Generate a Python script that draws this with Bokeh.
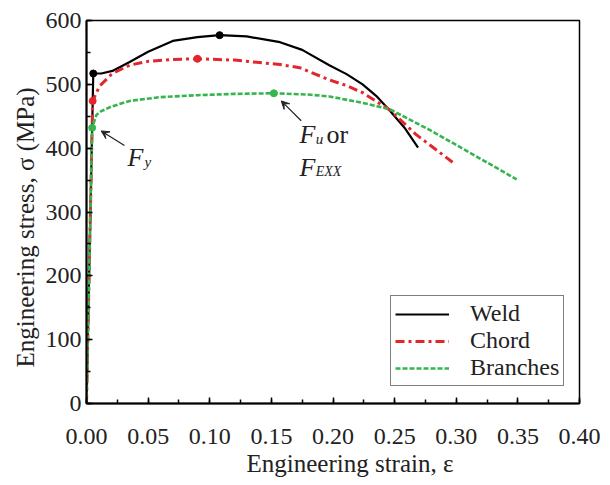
from bokeh.plotting import figure
from bokeh.models import (Range1d, SingleIntervalTicker, NumeralTickFormatter, Label,
                          Arrow, VeeHead, Legend, LegendItem, Title)
from bokeh.embed import file_html
from bokeh.resources import INLINE

# ---- data ----
weld_strain = [0, 0.0055, 0.012, 0.021, 0.035, 0.05, 0.07, 0.09, 0.108, 0.13, 0.157, 0.175,
               0.197, 0.211, 0.224, 0.235, 0.246, 0.258, 0.269]
weld_stress = [0, 517, 517, 521, 535, 551, 568, 574, 577, 575, 566, 554,
               530, 516, 500, 482, 459, 432, 401]

chord_strain = [0, 0.005, 0.0105, 0.021, 0.035, 0.05, 0.07, 0.09, 0.12, 0.157, 0.173, 0.197,
                0.211, 0.224, 0.246, 0.267, 0.297]
chord_stress = [0, 474, 497, 517, 530, 536, 539, 540, 538, 531, 526, 507,
                498, 487, 460, 422, 378]

branch_strain = [0, 0.0046, 0.008, 0.012, 0.02, 0.035, 0.06, 0.09, 0.12, 0.152, 0.18, 0.197,
                 0.224, 0.246, 0.278, 0.311, 0.349]
branch_stress = [0, 432, 452, 458, 465, 474, 480, 483, 485, 486, 484, 481,
                 471, 461, 429, 393, 351]

# yield / ultimate points marked on each curve
weld_pts_strain = [0.0055, 0.108]
weld_pts_stress = [517, 577]
chord_pts_strain = [0.005, 0.09]
chord_pts_stress = [474, 540]
branch_pts_strain = [0.0046, 0.152]
branch_pts_stress = [432, 486]

x_ticks_interval = 0.05
y_ticks_interval = 100

FONT = "Liberation Serif"
BLACK = "#000000"
RED = "#e3262b"
GREEN = "#35b44f"

p = figure(frame_width=493, frame_height=383, min_border_left=86, min_border_right=22,
           min_border_top=20, min_border_bottom=70,
           x_range=Range1d(0, 0.4), y_range=Range1d(0, 600),
           output_backend="svg", toolbar_location=None)
p.background_fill_color = "white"
p.border_fill_color = "white"
p.xgrid.visible = False
p.ygrid.visible = False
p.outline_line_color = "black"
p.outline_line_width = 1.5
p.outline_line_alpha = 1

# axes
p.xaxis.ticker = SingleIntervalTicker(interval=x_ticks_interval, num_minor_ticks=2)
p.yaxis.ticker = SingleIntervalTicker(interval=y_ticks_interval, num_minor_ticks=2)
p.xaxis.formatter = NumeralTickFormatter(format="0.00")
for ax in (p.xaxis[0], p.yaxis[0]):
    ax.axis_line_width = 2
    ax.axis_line_color = "black"
    ax.major_tick_in = 6
    ax.major_tick_out = 0
    ax.minor_tick_in = 4
    ax.minor_tick_out = 0
    ax.major_tick_line_width = 1.5
    ax.minor_tick_line_width = 1.5
    ax.major_label_text_font = FONT
    ax.major_label_text_font_size = "24px"
    ax.major_label_text_color = "#222222"
p.xaxis.major_label_standoff = 25
p.yaxis.major_label_standoff = 5

# axis titles
ytitle = Title(text="Engineering stress, σ (MPa)", align="left", offset=36, standoff=8,
               text_font=FONT, text_font_size="25px", text_font_style="normal",
               text_color="#222222")
p.add_layout(ytitle, "left")
xtitle = Title(text="Engineering strain, ε", align="left", offset=160, standoff=2,
               text_font=FONT, text_font_size="25px", text_font_style="normal",
               text_color="#222222")
p.add_layout(xtitle, "below")

# curves
r_weld = p.line(weld_strain, weld_stress, line_color=BLACK, line_width=2.2)
r_chord = p.line(chord_strain, chord_stress, line_color=RED, line_width=3,
                 line_dash="9 4 3 4")
r_branch = p.line(branch_strain, branch_stress, line_color=GREEN, line_width=2.6,
                  line_dash="5 2")
p.scatter(weld_pts_strain, weld_pts_stress, size=7, color=BLACK)
p.scatter(chord_pts_strain, chord_pts_stress, size=7, color=RED)
p.scatter(branch_pts_strain, branch_pts_stress, size=7, color=GREEN)

# legend
legend = Legend(items=[LegendItem(label="Weld", renderers=[r_weld]),
                       LegendItem(label="Chord", renderers=[r_chord]),
                       LegendItem(label="Branches", renderers=[r_branch])],
                location=(304, 17))
legend.label_text_font = FONT
legend.label_text_font_size = "24px"
legend.label_text_color = "#222222"
legend.glyph_width = 54
legend.glyph_height = 20
legend.label_height = 20
legend.label_standoff = 21
legend.spacing = -2
legend.padding = 4
legend.margin = 0
legend.border_line_color = "black"
legend.border_line_width = 1.5
legend.background_fill_alpha = 1
p.add_layout(legend, "center")

# annotations (F_y, F_u or F_EXX)
fy_text = [0.0333, 386]
fy_sub = [0.047, 378]
fy_arrow = [0.0308, 404, 0.0119, 427]
fu_text = [0.1728, 421]
fu_sub = [0.186, 414]
fu_or = [0.1947, 421]
fexx_text = [0.1728, 370]
fexx_sub = [0.186, 364]
fu_arrow = [0.1742, 443, 0.158, 474]

def lab(pos, text, size, style):
    p.add_layout(Label(x=pos[0], y=pos[1], text=text, text_font=FONT,
                       text_font_size=size, text_font_style=style, text_color="#222222",
                       text_baseline="alphabetic", text_align="left"))

lab(fy_text, "F", "26px", "italic")
lab(fy_sub, "y", "15px", "italic")
lab(fu_text, "F", "26px", "italic")
lab(fu_sub, "u", "15px", "italic")
lab(fu_or, "or", "26px", "normal")
lab(fexx_text, "F", "26px", "italic")
lab(fexx_sub, "EXX", "14px", "italic")

for a in (fy_arrow, fu_arrow):
    p.add_layout(Arrow(x_start=a[0], y_start=a[1], x_end=a[2], y_end=a[3],
                       line_width=1.2, line_color="#222222",
                       end=VeeHead(size=8, fill_color="#222222", line_color="#222222")))

open("out.html", "w").write(file_html(p, INLINE))
